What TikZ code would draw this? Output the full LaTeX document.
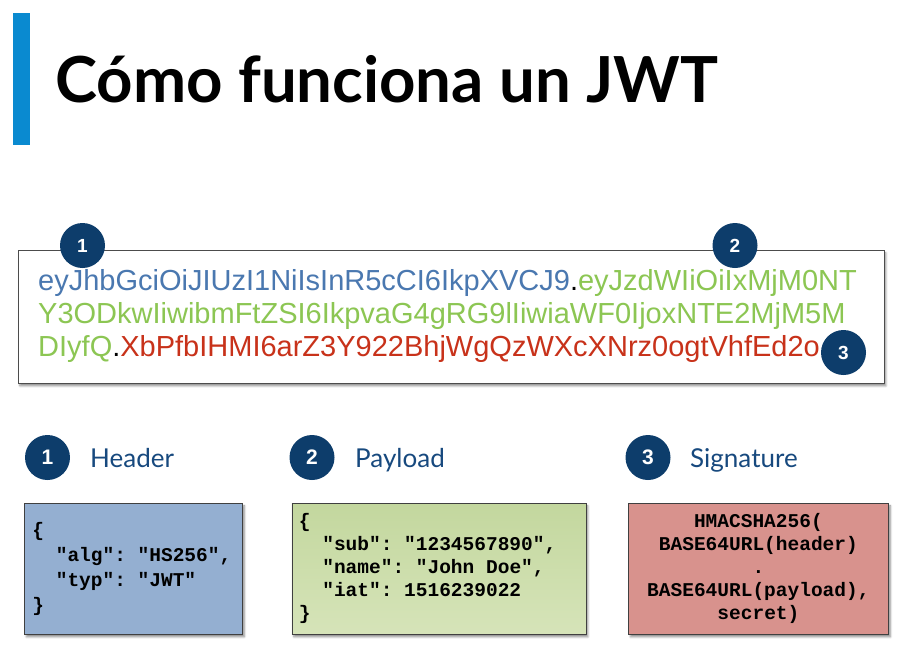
\documentclass[tikz,border=0pt]{standalone}
\usepackage{fontspec}
\setmainfont{Lato}
\setmonofont{Liberation Mono}
\newfontfamily\tokenfont{Liberation Sans}
\usetikzlibrary{shadows.blur}
\definecolor{barblue}{HTML}{0A8AD0}
\definecolor{navy}{HTML}{0D3D6B}
\definecolor{labelblue}{HTML}{17497E}
\definecolor{hdrtxt}{HTML}{4A78B0}
\definecolor{paytxt}{HTML}{8CC653}
\definecolor{sigtxt}{HTML}{C8321A}
\definecolor{hdrfill}{HTML}{94AFD1}
\definecolor{payfillA}{HTML}{C3D79E}
\definecolor{payfillB}{HTML}{D6E4B9}
\definecolor{sigfill}{HTML}{D8928D}
% one full monospace character of blank space
\newcommand\msp{\hspace*{0.6em}}
\tikzset{
  softshadow/.style={blur shadow={shadow xshift=2pt, shadow yshift=-2.5pt, shadow blur steps=6, shadow opacity=45}},
  badge/.style={circle, fill=navy, text=white, minimum size=45pt, inner sep=0pt,
    font=\tokenfont\bfseries\fontsize{21}{21}\selectfont},
  sectionlabel/.style={anchor=base west, inner sep=0pt, text=labelblue,
    font=\fontsize{26}{26}\selectfont},
  tokenline/.style={anchor=base west, inner sep=0pt,
    font=\tokenfont\fontsize{29}{29}\selectfont},
  codebox/.style={draw=black!75, line width=0.8pt, softshadow, minimum height=131pt,
    inner ysep=0pt},
}
\begin{document}
\begin{tikzpicture}[x=1pt, y=-1pt]
\useasboundingbox (0,0) rectangle (907,657);

% title with accent bar
\fill[barblue] (13,13) rectangle (30,145);
\node[anchor=base west, inner sep=0pt, font=\bfseries\fontsize{63.5}{63.5}\selectfont] (title) at (55,102) {Cómo funciona un JWT};

% encoded token
\node[draw=black!70, line width=0.8pt, fill=white, softshadow, minimum width=866pt, minimum height=133pt, anchor=north west] (token) at (17.5,250) {};
\node[tokenline] (tok1) at (38,290) {\textcolor{hdrtxt}{eyJhbGciOiJIUzI1NiIsInR5cCI6IkpXVCJ9}.\textcolor{paytxt}{eyJzdWIiOiIxMjM0NT}};
\node[tokenline] (tok2) at (38,323) {\textcolor{paytxt}{Y3ODkwIiwibmFtZSI6IkpvaG4gRG9lIiwiaWF0IjoxNTE2MjM5M}};
\node[tokenline] (tok3) at (38,356) {\textcolor{paytxt}{DIyfQ}.\textcolor{sigtxt}{XbPfbIHMI6arZ3Y922BhjWgQzWXcXNrz0ogtVhfEd2o}};

\node[badge, font=\tokenfont\bfseries\fontsize{19}{19}\selectfont] (b1) at (82.5,245.5) {1};
\node[badge, font=\tokenfont\bfseries\fontsize{19}{19}\selectfont] (b2) at (735,245.5) {2};
\node[badge, font=\tokenfont\bfseries\fontsize{19}{19}\selectfont] (b3) at (843.5,352.5) {3};

% section headings
\node[badge] (s1) at (47.5,457.5) {1};
\node[sectionlabel] (l1) at (90,467) {Header};
\node[badge] (s2) at (312,457.5) {2};
\node[sectionlabel] (l2) at (355,467) {Payload};
\node[badge] (s3) at (648,457.5) {3};
\node[sectionlabel] (l3) at (690,467) {Signature};

% decoded parts
\node[codebox, fill=hdrfill, anchor=north west, text width=202pt, inner xsep=8pt, align=left,
  font=\ttfamily\bfseries\fontsize{19.5}{25}\selectfont] (hbox) at (24,503)
  {\{\\\msp\msp"alg":\msp"HS256",\\\msp\msp"typ":\msp"JWT"\\\}};
\node[codebox, top color=payfillA, bottom color=payfillB, anchor=north west, text width=280pt, inner xsep=7pt, align=left,
  font=\ttfamily\bfseries\fontsize{19.5}{23}\selectfont] (pbox) at (291.5,503)
  {\{\\\msp\msp"sub":\msp"1234567890",\\\msp\msp"name":\msp"John\msp Doe",\\\msp\msp"iat":\msp1516239022\\\}};
\node[codebox, fill=sigfill, anchor=north west, text width=250pt, inner xsep=5pt, align=center,
  font=\ttfamily\bfseries\fontsize{19.5}{23}\selectfont] (sbox) at (628,503)
  {HMACSHA256(\\BASE64URL(header)\\.\\BASE64URL(payload),\\secret)};
\end{tikzpicture}
\end{document}
